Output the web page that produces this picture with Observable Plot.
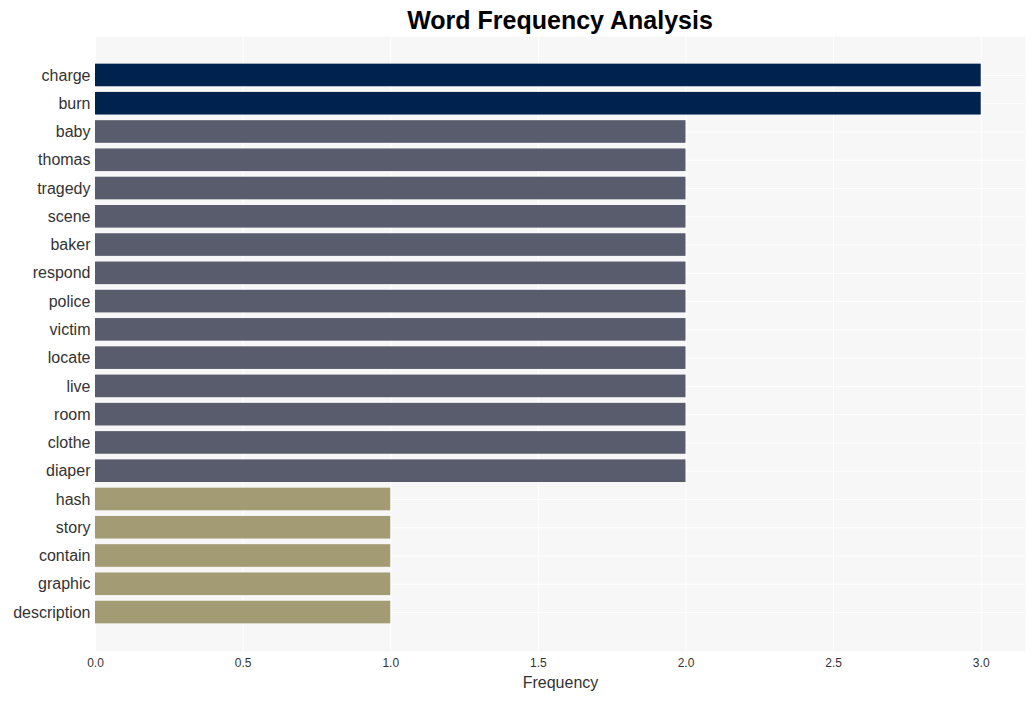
<!DOCTYPE html>
<html>
<head>
<meta charset="utf-8">
<script src="https://cdn.jsdelivr.net/npm/d3@7"></script>
<script src="https://cdn.jsdelivr.net/npm/@observablehq/plot@0.6"></script>
<style>
  html, body { margin: 0; padding: 0; background: #ffffff; }
  body { width: 1035px; height: 701px; overflow: hidden; font-family: Arial, "Liberation Sans", sans-serif; }
  #title { height: 36px; line-height: 40px; padding-left: 95px; width: 930px; text-align: center;
           font-size: 25px; font-weight: bold; color: #000; }
  #chart svg { display: block; }
</style>
</head>
<body>
<div id="title">Word Frequency Analysis</div>
<div id="chart"></div>
<script>
const words = ["charge","burn","baby","thomas","tragedy","scene","baker","respond","police","victim","locate","live","room","clothe","diaper","hash","story","contain","graphic","description"];
const counts = [3,3,2,2,2,2,2,2,2,2,2,2,2,2,2,1,1,1,1,1];
const colorDomain = [1, 2, 3];
const colorRange = ["#a39b73", "#585c6d", "#00224e"];
const xTicks = [0, 0.5, 1, 1.5, 2, 2.5, 3];

const data = words.map((w, i) => ({word: w, count: counts[i]}));

const chart = Plot.plot({
  width: 1035,
  height: 665,
  marginTop: 0,
  marginBottom: 50,
  marginLeft: 95,
  marginRight: 10,
  style: {fontFamily: 'Arial, "Liberation Sans", sans-serif', background: "#ffffff", color: "#333"},
  x: {domain: [0, 3.15], ticks: xTicks, tickFormat: d3.format(".1f"), label: "Frequency", labelAnchor: "center"},
  y: {domain: words, range: [22, 593], padding: 0.2, round: false, label: null},
  color: {domain: colorDomain, range: colorRange, type: "ordinal"},
  marks: [
    Plot.frame({fill: "#f7f7f7", stroke: null}),
    Plot.gridX(xTicks, {stroke: "#ffffff", strokeOpacity: 1, strokeWidth: 1}),
    Plot.gridY({stroke: "#ffffff", strokeOpacity: 1, strokeWidth: 1}),
    Plot.barX(data, {x: "count", y: "word", fill: d => d.count}),
    Plot.axisX({ticks: xTicks, tickFormat: d3.format(".1f"), tickSize: 0, tickPadding: 7, fontSize: 12, label: "Frequency", labelAnchor: "center", labelArrow: "none", labelOffset: 36}),
    Plot.axisY({tickSize: 0, tickPadding: 5, fontSize: 16, label: null})
  ]
});
document.getElementById("chart").appendChild(chart);
chart.querySelectorAll('[aria-label="x-axis label"] text').forEach(t => { t.style.fontSize = "16px"; });
</script>
</body>
</html>
